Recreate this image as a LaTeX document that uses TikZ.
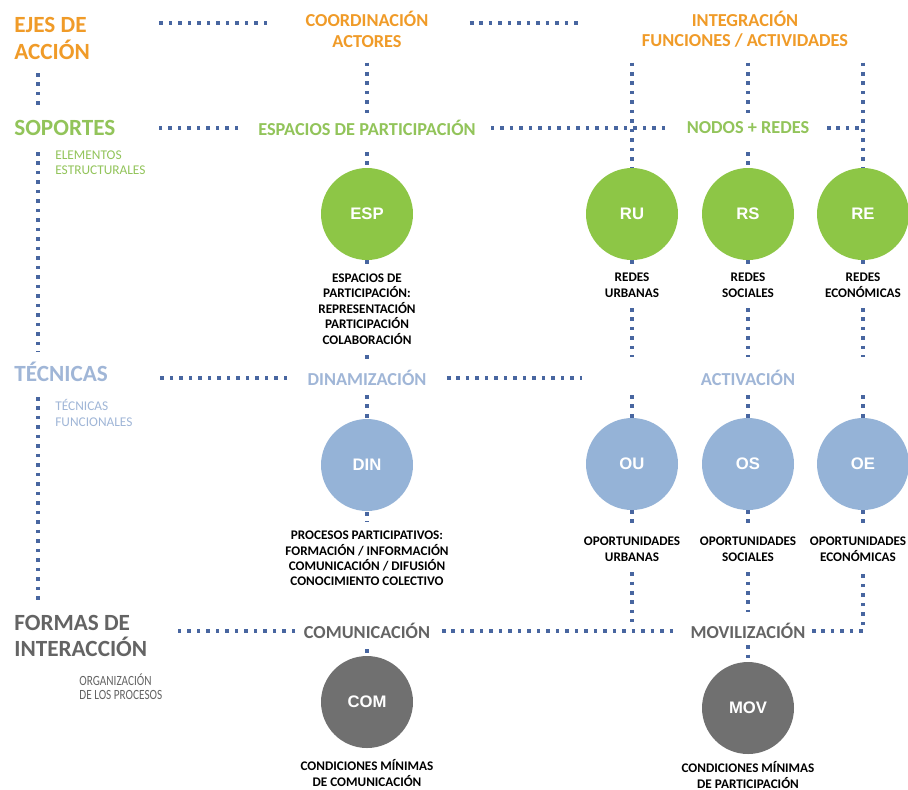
\documentclass[tikz,border=0pt]{standalone}
\usepackage{fontspec}
\setmainfont{Carlito}
\newfontfamily\circfont{Liberation Sans}

\definecolor{naranja}{RGB}{240,155,40}
\definecolor{verde}{RGB}{141,198,70}
\definecolor{verdetx}{RGB}{146,196,90}
\definecolor{azul}{RGB}{149,179,215}
\definecolor{azultx}{RGB}{160,182,215}
\definecolor{gris}{RGB}{112,112,112}
\definecolor{gristx}{RGB}{100,100,100}
\definecolor{puntos}{RGB}{72,102,160}

\begin{document}
\begin{tikzpicture}[x=0.02cm, y=-0.02cm,
    ttl/.style={anchor=west, inner sep=0pt, align=left, font=\fontsize{13.2}{15.3}\selectfont\bfseries},
    sub/.style={anchor=west, inner sep=0pt, align=left, font=\fontsize{7.6}{8.6}\selectfont},
    hdr/.style={inner sep=0pt, align=center, font=\fontsize{10.4}{11.6}\selectfont\bfseries},
    circ/.style={circle, minimum size=1.84cm, inner sep=0pt, text=white, font=\circfont\fontsize{9.5}{11}\selectfont\bfseries},
    lbl/.style={inner sep=0pt, align=center, font=\fontsize{7.5}{8.8}\selectfont\bfseries},
    enlace/.style={draw=puntos, line width=2pt, dash pattern=on 2pt off 3.4pt}
]

% Background
\fill[white] (0,0) rectangle (908,789);
\useasboundingbox (0,0) rectangle (908,789);

% Ejes (left column)
\node[ttl, text=naranja] (ejes) at (14,38.5) {EJES DE\\ACCIÓN};
\node[ttl, text=verdetx] (soportes) at (14,128) {SOPORTES};
\node[sub, text=verdetx] (elementos) at (55,162.5) {ELEMENTOS\\ESTRUCTURALES};
\node[ttl, text=azultx] (tecnicas) at (14,372) {TÉCNICAS};
\node[sub, text=azultx] (tecfun) at (55,413) {TÉCNICAS\\FUNCIONALES};
\node[ttl, text=gristx] (formas) at (14,636) {FORMAS DE\\INTERACCIÓN};
\node[sub, text=gristx, font=\fontsize{8}{8}\selectfont\addfontfeature{FakeStretch=0.8}] (organiz) at (79,687) {ORGANIZACIÓN\\DE LOS PROCESOS};

% Row headers
\node[hdr, text=naranja] (coord) at (367,29.5) {COORDINACIÓN\\ACTORES};
\node[hdr, text=naranja] (integ) at (745,29.5) {INTEGRACIÓN\\FUNCIONES / ACTIVIDADES};
\node[hdr, text=verdetx] (espacios) at (367,128) {ESPACIOS DE PARTICIPACIÓN};
\node[hdr, text=verdetx] (nodos) at (748,128) {NODOS + REDES};
\node[hdr, text=azultx] (dinam) at (367,378) {DINAMIZACIÓN};
\node[hdr, text=azultx] (activ) at (748,378) {ACTIVACIÓN};
\node[hdr, text=gristx] (comun) at (367,631) {COMUNICACIÓN};
\node[hdr, text=gristx] (movil) at (748,631) {MOVILIZACIÓN};

% Soportes
\node[circ, fill=verde] (esp) at (367,214) {ESP};
\node[circ, fill=verde] (ru) at (632,214) {RU};
\node[circ, fill=verde] (rs) at (748,214) {RS};
\node[circ, fill=verde] (re) at (863,214) {RE};

% Tecnicas
\node[circ, fill=azul] (din) at (367,465) {DIN};
\node[circ, fill=azul] (ou) at (632,464) {OU};
\node[circ, fill=azul] (os) at (748,464) {OS};
\node[circ, fill=azul] (oe) at (863,464) {OE};

% Formas de interaccion
\node[circ, fill=gris] (com) at (367,702) {COM};
\node[circ, fill=gris] (mov) at (748,708) {MOV};

% Labels
\node[lbl] (lesp) at (367,309) {ESPACIOS DE\\PARTICIPACIÓN:\\REPRESENTACIÓN\\PARTICIPACIÓN\\COLABORACIÓN};
\node[lbl] (lru) at (632,285) {REDES\\URBANAS};
\node[lbl] (lrs) at (748,285) {REDES\\SOCIALES};
\node[lbl] (lre) at (863,285) {REDES\\ECONÓMICAS};
\node[lbl] (ldin) at (367,558.5) {PROCESOS PARTICIPATIVOS:\\FORMACIÓN / INFORMACIÓN\\COMUNICACIÓN / DIFUSIÓN\\CONOCIMIENTO COLECTIVO};
\node[lbl] (lou) at (632,549) {OPORTUNIDADES\\URBANAS};
\node[lbl] (los) at (748,549) {OPORTUNIDADES\\SOCIALES};
\node[lbl] (loe) at (858,549) {OPORTUNIDADES\\ECONÓMICAS};
\node[lbl] (lcom) at (367,773) {CONDICIONES MÍNIMAS\\DE COMUNICACIÓN};
\node[lbl] (lmov) at (748,775) {CONDICIONES MÍNIMAS\\DE PARTICIPACIÓN};

% Left column links
\draw[enlace, shorten <=0.69cm, shorten >=0.4cm] ([xshift=0.48cm]ejes.west) -- ([xshift=0.48cm]soportes.west);
\draw[enlace, shorten <=0.48cm, shorten >=0.4cm] ([xshift=0.48cm]soportes.west) -- ([xshift=0.48cm]tecnicas.west);
\draw[enlace, shorten <=0.5cm, shorten >=0.62cm] ([xshift=0.48cm]tecnicas.west) -- ([xshift=0.48cm]formas.west);

% Rows
\draw[enlace, shorten <=2cm, shorten >=2.88cm] ([yshift=0.13cm]coord.center) -- ([yshift=0.13cm]coord.center -| ejes.west);
\draw[enlace, shorten <=2.06cm, shorten >=3.24cm] ([yshift=0.13cm]coord.center) -- ([yshift=0.13cm]integ.center);
\draw[enlace, shorten <=2.58cm, shorten >=2.86cm] (espacios.center) -- (espacios.center -| soportes.west);
\draw[enlace, shorten <=2.48cm, shorten >=1.64cm] (espacios.center) -- (nodos.center);
\draw[enlace, shorten <=1.58cm] (nodos.center) -- (nodos.center -| re.center);
\draw[enlace, shorten <=1.6cm, shorten >=2.92cm] (dinam.center) -- (dinam.center -| tecnicas.west);
\draw[enlace, shorten <=1.6cm, shorten >=3.32cm] (dinam.center) -- (activ.center);
\draw[enlace, shorten <=1.44cm, shorten >=3.26cm] (comun.center) -- (comun.center -| formas.west);
\draw[enlace, shorten <=1.5cm, shorten >=1.48cm] (comun.center) -- (movil.center);
\draw[enlace, shorten <=1.28cm, shorten >=0.46cm] (movil.center) -| (oe.center |- loe.center);

% Coordinacion column
\draw[enlace, shorten <=0.66cm, shorten >=0.3cm] (coord.center) -- (espacios.center);
\draw[enlace, shorten <=0.48cm, shorten >=0.92cm] (espacios.center) -- (esp.center);
\draw[enlace, shorten <=0.92cm, shorten >=0.9cm] (esp.center) -- (lesp.center);
\draw[enlace, shorten <=0.92cm, shorten >=0.36cm] (lesp.center) -- (dinam.center);
\draw[enlace, shorten <=0.34cm, shorten >=0.94cm] (dinam.center) -- (din.center);
\draw[enlace, shorten <=0.94cm, shorten >=0.74cm] (din.center) -- (ldin.center);
\draw[enlace, shorten <=0.36cm, shorten >=0.98cm] (comun.center) -- (com.center);

% Urbanas column
\draw[enlace, shorten <=0.66cm, shorten >=0.92cm] (ru.center |- integ.center) -- (ru.center);
\draw[enlace, shorten <=0.92cm, shorten >=0.42cm] (ru.center) -- (lru.center);
\draw[enlace, shorten <=0.46cm, shorten >=0.42cm] (lru.center) -- (lru.center |- activ.center);
\draw[enlace, shorten <=0.34cm, shorten >=0.92cm] (ou.center |- activ.center) -- (ou.center);
\draw[enlace, shorten <=0.92cm, shorten >=0.5cm] (ou.center) -- (lou.center);
\draw[enlace, shorten <=0.46cm, shorten >=0.18cm] (lou.center) -- (lou.center |- movil.center);

% Sociales column
\draw[enlace, shorten <=0.66cm, shorten >=0.3cm] (rs.center |- integ.center) -- (nodos.center);
\draw[enlace, shorten <=0.48cm, shorten >=0.92cm] (nodos.center) -- (rs.center);
\draw[enlace, shorten <=0.92cm, shorten >=0.42cm] (rs.center) -- (lrs.center);
\draw[enlace, shorten <=0.46cm, shorten >=0.42cm] (lrs.center) -- (activ.center);
\draw[enlace, shorten <=0.34cm, shorten >=0.92cm] (activ.center) -- (os.center);
\draw[enlace, shorten <=0.92cm, shorten >=0.5cm] (os.center) -- (los.center);
\draw[enlace, shorten <=0.46cm, shorten >=0.38cm] (los.center) -- (movil.center);
\draw[enlace, shorten <=0.28cm, shorten >=0.92cm] (movil.center) -- (mov.center);

% Economicas column
\draw[enlace, shorten <=0.66cm, shorten >=0.92cm] (re.center |- integ.center) -- (re.center);
\draw[enlace, shorten <=0.92cm, shorten >=0.42cm] (re.center) -- (lre.center);
\draw[enlace, shorten <=0.46cm, shorten >=0.42cm] (lre.center) -- (lre.center |- activ.center);
\draw[enlace, shorten <=0.34cm, shorten >=0.92cm] (oe.center |- activ.center) -- (oe.center);
\draw[enlace, shorten <=0.92cm, shorten >=0.5cm] (oe.center) -- (oe.center |- loe.center);

\end{tikzpicture}
\end{document}
